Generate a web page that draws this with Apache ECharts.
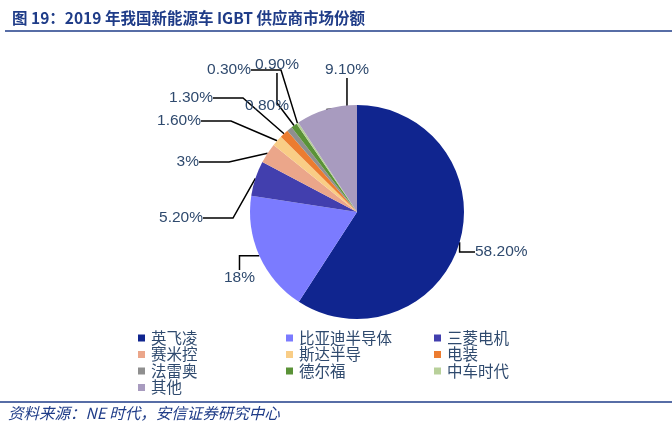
<!DOCTYPE html>
<html>
<head>
<meta charset="utf-8">
<script src="https://cdn.jsdelivr.net/npm/echarts@6/dist/echarts.min.js"></script>
<style>
  html, body { margin: 0; padding: 0; background: #fff; }
  #main { width: 672px; height: 426px; }
</style>
</head>
<body>
<div id="main"></div>
<script>
// 供应商名称和份额（%）
const names = ['英飞凌', '比亚迪半导体', '三菱电机', '赛米控', '斯达半导', '电装', '法雷奥', '德尔福', '中车时代', '其他'];
const shares = [58.2, 18, 5.2, 3, 1.6, 1.3, 0.8, 0.9, 0.3, 9.1];
const colors = ['#10258f', '#7b7bff', '#423fae', '#eba68a', '#f9cd86', '#ec7c30', '#8f8f8f', '#5a9237', '#b8d09a', '#a89bbf'];

// 标签摆放位置（照着原图摆）
const labelPos = [
    [475, 252, 'left'], [255, 278, 'right'], [203, 218, 'right'], [199, 162, 'right'],
    [201, 121, 'right'], [213, 98, 'right'], [245, 106, 'left'], [255, 65, 'left'],
    [251, 70, 'right'], [325, 70, 'left']
];

// 图例分三列
const legendCols = [
    ['英飞凌', '赛米控', '法雷奥', '其他'],
    ['比亚迪半导体', '斯达半导', '德尔福'],
    ['三菱电机', '电装', '中车时代']
];
const legendX = [138, 286, 434];

const textColor = '#2f4a6e';
const blue = '#1f3c88';

const myChart = echarts.init(document.getElementById('main'));

function fmt(v) {
    return Number.isInteger(v) ? v + '%' : v.toFixed(2) + '%';
}

myChart.setOption({
    animation: false,
    color: colors,
    title: {
        text: '图 19：2019 年我国新能源车 IGBT 供应商市场份额',
        left: 7,
        top: 5,
        textStyle: { fontFamily: 'Noto Sans CJK SC', fontWeight: 'bold', fontSize: 15.5, color: blue }
    },
    graphic: [
        { type: 'line', shape: { x1: 5, y1: 31, x2: 672, y2: 31 }, style: { stroke: blue, lineWidth: 1.5 } },
        { type: 'line', shape: { x1: 0, y1: 402, x2: 672, y2: 402 }, style: { stroke: blue, lineWidth: 1.5 } },
        {
            type: 'text', left: 8, top: 405,
            style: { text: '资料来源：NE 时代，安信证券研究中心', fill: blue, font: 'italic 15.5px "Noto Sans CJK SC"' }
        }
    ],
    legend: legendCols.map((col, i) => ({
        data: col,
        orient: 'vertical',
        left: legendX[i],
        top: 330,
        icon: 'rect',
        itemWidth: 7,
        itemHeight: 7,
        itemGap: 0.5,
        padding: 0,
        selectedMode: false,
        textStyle: { fontFamily: 'Noto Sans CJK SC', fontSize: 15.5, lineHeight: 16, color: textColor, padding: [0, 0, 0, 1] }
    })),
    series: [
        {
            type: 'pie',
            center: [357, 212],
            radius: 107,
            startAngle: 90,
            clockwise: true,
            avoidLabelOverlap: false,
            itemStyle: { borderWidth: 0 },
            data: names.map((n, i) => ({
                name: n,
                value: shares[i],
                labelLine: { show: i !== 6 }
            })),
            label: {
                show: true,
                position: 'outside',
                formatter: p => fmt(p.value),
                fontFamily: 'Arial, Liberation Sans',
                fontSize: 15.5,
                color: textColor
            },
            labelLine: {
                show: true,
                lineStyle: { color: '#000', width: 1.5 }
            },
            labelLayout: function (p) {
                const a = labelPos[p.dataIndex];
                return { x: a[0], y: a[1], align: a[2], verticalAlign: 'middle' };
            },
            emphasis: { disabled: true }
        }
    ]
});
</script>
</body>
</html>
